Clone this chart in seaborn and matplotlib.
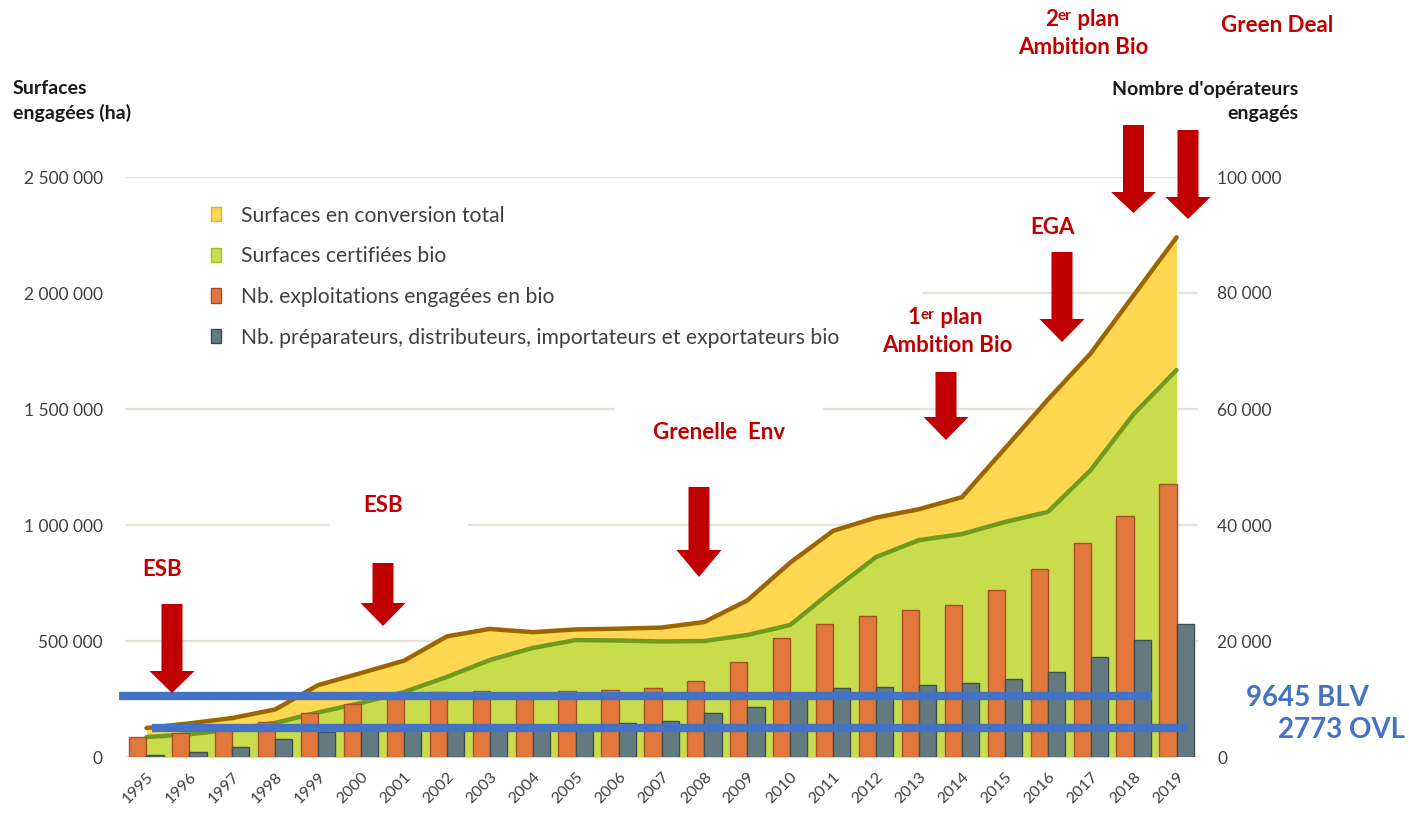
import numpy as np
import pandas as pd
import matplotlib
matplotlib.use("Agg")
import matplotlib.pyplot as plt
from matplotlib.patches import Polygon, Rectangle, Patch
from matplotlib.ticker import FuncFormatter
import seaborn as sns

# Data
YEARS = [str(y) for y in range(1995, 2020)]

# surfaces (ha), left axis
SURF_TOTAL = [125000, 145000, 168000, 205000, 310000, 362000, 415000, 520000, 552000, 538000,
              550000, 553000, 558000, 582000, 675000, 838000, 975000, 1032000, 1068000, 1120000,
              1330000, 1540000, 1740000, 1990000, 2240000]
SURF_CERT = [86000, 98000, 118000, 147000, 192000, 233000, 280000, 345000, 418000, 470000,
             504000, 502000, 498000, 500000, 526000, 569000, 720000, 862000, 935000, 961000,
             1013000, 1056000, 1237000, 1478000, 1668000]

# operators, right axis
EXPLOITATIONS = [3500, 4100, 5000, 6100, 7600, 9200, 10400, 11200, 11400, 11100,
                 11400, 11600, 11900, 13100, 16400, 20500, 22900, 24300, 25350, 26200,
                 28800, 32400, 36900, 41500, 47100]
PREPARATEURS = [350, 860, 1720, 3100, 4300, 4700, 5000, 5200, 5300, 5400,
                5500, 5860, 6200, 7600, 8600, 10300, 11900, 12070, 12400, 12760,
                13450, 14650, 17240, 20170, 22930]

LABELS = ["Surfaces en conversion total", "Surfaces certifiées bio",
          "Nb. exploitations engagées en bio",
          "Nb. préparateurs, distributeurs, importateurs et exportateurs bio"]

BLV_LEVEL, OVL_LEVEL = 10500, 5000
BLV_TEXT, OVL_TEXT = "9645 BLV", "2773 OVL"

YELLOW, BROWN = "#FFD750", "#9C6500"
GREEN, DGREEN = "#C8DC4C", "#6F9A1E"
ORANGE, ORANGE_EDGE = "#E2773C", "#A6502A"
GREY, GREY_EDGE = "#627A80", "#3E4E54"
RED = "#C00000"
BLUE = "#4472C4"
TXT = "#404040"

W, H = 1409, 815

sns.set_style("white")
plt.rcParams["font.family"] = ["Lato", "DejaVu Sans"]

fig = plt.figure(figsize=(W / 100, H / 100), dpi=100)
ax = fig.add_axes([125 / W, 1 - 757 / H, (1198 - 125) / W, (757 - 177) / H])
ax2 = ax.twinx()

x = np.arange(len(YEARS))

# grid + white masks behind legend / labels
ax.set_axisbelow(True)
ax.yaxis.grid(True, color="#E6E2D8", linewidth=1.6)
ax.xaxis.grid(False)


def px_rect(x0, y0, x1, y1, target):
    r = Rectangle((x0 / W, 1 - y1 / H), (x1 - x0) / W, (y1 - y0) / H,
                  transform=fig.transFigure, facecolor="white", edgecolor="none", zorder=0.8)
    target.add_patch(r)


px_rect(125, 188, 922, 350, ax)
px_rect(329, 488, 468, 540, ax)
px_rect(615, 395, 823, 450, ax)

# areas
ax.fill_between(x, SURF_TOTAL, color=YELLOW, linewidth=0, zorder=1)
ax.fill_between(x, SURF_CERT, color=GREEN, linewidth=0, zorder=1.1)
sns.lineplot(x=x, y=SURF_TOTAL, color=BROWN, linewidth=3.2, ax=ax, zorder=1.2)
sns.lineplot(x=x, y=SURF_CERT, color=DGREEN, linewidth=3.2, ax=ax, zorder=1.2)
ax.set_ylim(0, 2500000)
ax.set_yticks(np.arange(0, 2500001, 500000))

# bars
df = pd.DataFrame({
    "year": YEARS * 2,
    "value": EXPLOITATIONS + PREPARATEURS,
    "series": [LABELS[2]] * len(YEARS) + [LABELS[3]] * len(YEARS),
})
sns.barplot(data=df, x="year", y="value", hue="series", palette=[ORANGE, GREY],
            saturation=1, width=0.8, legend=False, ax=ax2)
for cont, ec in zip(ax2.containers, [ORANGE_EDGE, GREY_EDGE]):
    for b in cont:
        b.set_edgecolor(ec)
        b.set_linewidth(1.0)
ax2.set_ylim(0, 100000)
ax2.set_yticks(np.arange(0, 100001, 20000))

# blue reference lines
ax2.plot([-0.65, 23.42], [BLV_LEVEL, BLV_LEVEL], color=BLUE, linewidth=6,
         solid_capstyle="butt", clip_on=False, zorder=5)
ax2.plot([0.14, 24.26], [OVL_LEVEL, OVL_LEVEL], color=BLUE, linewidth=6,
         solid_capstyle="butt", clip_on=False, zorder=5)

ax.set_xlim(-0.5, 24.5)
ax.set_xticks(x)
ax.set_xticklabels(YEARS, rotation=45, ha="right", rotation_mode="anchor",
                   fontsize=11.5, color=TXT)
ax.tick_params(axis="x", length=0, pad=9)

fmt = FuncFormatter(lambda v, p: f"{v:,.0f}".replace(",", " "))
ax.yaxis.set_major_formatter(fmt)
ax2.yaxis.set_major_formatter(fmt)
ax.tick_params(axis="y", length=0, pad=16, labelsize=12.5, labelcolor=TXT)
ax2.tick_params(axis="y", length=0, pad=14, labelsize=12.5, labelcolor=TXT)
for a in (ax, ax2):
    a.set_xlabel("")
    a.set_ylabel("")
    for s in a.spines.values():
        s.set_visible(False)

# legend
handles = [Patch(facecolor=YELLOW, edgecolor="#E0B030"),
           Patch(facecolor=GREEN, edgecolor="#A8C030"),
           Patch(facecolor=ORANGE, edgecolor=ORANGE_EDGE),
           Patch(facecolor=GREY, edgecolor=GREY_EDGE)]
fig.legend(handles, LABELS, loc="upper left", bbox_to_anchor=(200 / W, 1 - 195 / H),
           frameon=False, fontsize=15.2, labelcolor=TXT, handlelength=0.5,
           handleheight=0.65, handletextpad=0.95, labelspacing=0.98, borderpad=0)

# axis titles
fig.text(13 / W, 1 - 89 / H, "Surfaces", fontsize=14, fontweight="bold", color="#1A1A1A",
         va="center")
fig.text(13 / W, 1 - 113 / H, "engagées (ha)", fontsize=14, fontweight="bold", color="#1A1A1A",
         va="center")
fig.text(1298 / W, 1 - 89 / H, "Nombre d'opérateurs", fontsize=14, fontweight="bold",
         color="#1A1A1A", ha="right", va="center")
fig.text(1298 / W, 1 - 113 / H, "engagés", fontsize=14, fontweight="bold",
         color="#1A1A1A", ha="right", va="center")


# red block arrows (pixel coordinates)
def block_arrow(cx, top, head_y, tip, shaft_w=21, head_w=45):
    pts = [(cx - shaft_w / 2, top), (cx + shaft_w / 2, top), (cx + shaft_w / 2, head_y),
           (cx + head_w / 2, head_y), (cx, tip), (cx - head_w / 2, head_y),
           (cx - shaft_w / 2, head_y)]
    poly = Polygon([(px / W, 1 - py / H) for px, py in pts], closed=True,
                   transform=fig.transFigure, facecolor=RED, edgecolor="none", zorder=6)
    fig.add_artist(poly)


block_arrow(172, 604, 671, 693)
block_arrow(383, 563, 603, 626)
block_arrow(699, 487, 550, 577)
block_arrow(946, 372, 417, 440)
block_arrow(1062, 252, 319, 342)
block_arrow(1133.5, 125, 192, 213)
block_arrow(1188, 130, 197, 219)


def red(xp, yp, s, size=16, ha="center"):
    return fig.text(xp / W, 1 - yp / H, s, fontsize=size, fontweight="bold", color=RED,
                    ha=ha, va="center")


red(162, 569, "ESB")
red(383, 506, "ESB")
red(719, 432, "Grenelle  Env")
red(1053, 228, "EGA")
red(1277, 25, "Green Deal")
red(947, 346, "Ambition Bio")
red(1083, 48, "Ambition Bio")


def plan_label(x_left, yp, num):
    t1 = fig.text(x_left / W, 1 - yp / H, num, fontsize=16, fontweight="bold", color=RED,
                  ha="left", va="center")
    t2 = ax.annotate("er", xy=(1, 0.98), xycoords=t1, fontsize=11, fontweight="bold",
                     color=RED, ha="left", va="top", annotation_clip=False)
    ax.annotate(" plan", xy=(1, 0), xycoords=(t2, t1), fontsize=16, fontweight="bold",
                color=RED, ha="left", va="bottom", annotation_clip=False)


plan_label(908, 318, "1")
plan_label(1045, 19, "2")

# blue notes
fig.text(1246 / W, 1 - 698 / H, BLV_TEXT, fontsize=20, fontweight="bold", color=BLUE,
         ha="left", va="center")
fig.text(1278 / W, 1 - 730 / H, OVL_TEXT, fontsize=20, fontweight="bold", color=BLUE,
         ha="left", va="center")

fig.savefig("out.png", dpi=100, facecolor="white")
